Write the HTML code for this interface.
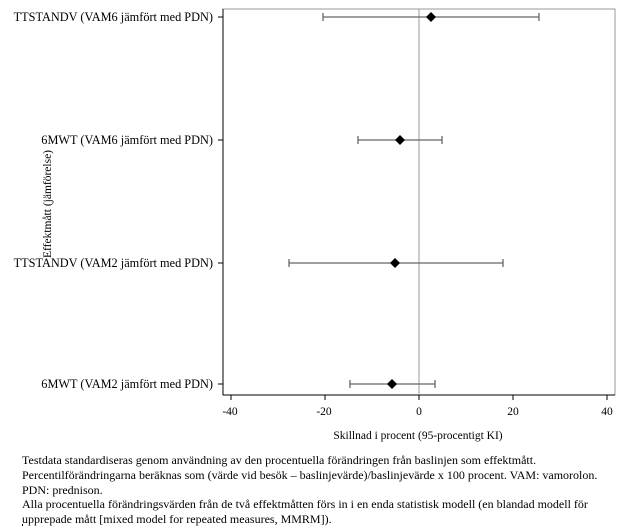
<!DOCTYPE html>
<html><head><meta charset="utf-8"><style>
body{margin:0;background:#fff;width:643px;height:526px;overflow:hidden}
svg{display:block}
text{font-family:"Liberation Serif",serif;fill:#000}
</style></head><body>
<svg width="643" height="526" viewBox="0 0 643 526">
<rect x="223" y="9" width="392" height="386" fill="none" stroke="#999" stroke-width="1"/>
<line x1="223" y1="9" x2="223" y2="395" stroke="#000"/>
<line x1="223" y1="395" x2="615" y2="395" stroke="#000"/>
<line x1="419" y1="9" x2="419" y2="395" stroke="#999"/>
<g stroke="#000">
<line x1="218" y1="17" x2="223" y2="17"/><line x1="218" y1="140" x2="223" y2="140"/>
<line x1="218" y1="263" x2="223" y2="263"/><line x1="218" y1="384" x2="223" y2="384"/>
<line x1="231" y1="395" x2="231" y2="400"/><line x1="325" y1="395" x2="325" y2="400"/>
<line x1="419" y1="395" x2="419" y2="400"/><line x1="513" y1="395" x2="513" y2="400"/>
<line x1="607" y1="395" x2="607" y2="400"/>
</g>
<g font-size="12.3" text-anchor="end">
<text x="213" y="21">TTSTANDV (VAM6 jämfört med PDN)</text>
<text x="213" y="144">6MWT (VAM6 jämfört med PDN)</text>
<text x="213" y="267">TTSTANDV (VAM2 jämfört med PDN)</text>
<text x="213" y="388">6MWT (VAM2 jämfört med PDN)</text>
</g>
<g font-size="11.5" text-anchor="middle">
<text x="230" y="415">-40</text><text x="324" y="415">-20</text><text x="419" y="415">0</text>
<text x="513" y="415">20</text><text x="607" y="415">40</text>
<text x="418" y="439">Skillnad i procent (95-procentigt KI)</text>
</g>
<text font-size="11.5" text-anchor="middle" transform="translate(51,204) rotate(-90)">Effektmått (jämförelse)</text>
<g stroke="#666" stroke-width="1.3" fill="none">
<path d="M323 17H539M323 13v8M539 13v8"/>
<path d="M358 140H442M358 136v8M442 136v8"/>
<path d="M289 263H503M289 259v8M503 259v8"/>
<path d="M350 384H435M350 380v8M435 380v8"/>
</g>
<g fill="#000">
<path d="M431 12l5 5-5 5-5-5z"/>
<path d="M400 135l5 5-5 5-5-5z"/>
<path d="M395 258l5 5-5 5-5-5z"/>
<path d="M392 379l5 5-5 5-5-5z"/>
</g>
<g font-size="12">
<text x="22" y="464">Testdata standardiseras genom användning av den procentuella förändringen från baslinjen som effektmått.</text>
<text x="22" y="479">Percentilförändringarna beräknas som (värde vid besök – baslinjevärde)/baslinjevärde x 100 procent. VAM: vamorolon.</text>
<text x="22" y="494">PDN: prednison.</text>
<text x="22" y="508">Alla procentuella förändringsvärden från de två effektmåtten förs in i en enda statistisk modell (en blandad modell för</text>
<text x="22" y="523">upprepade mått [mixed model for repeated measures, MMRM]).</text>
</g>
<line x1="22.5" y1="524" x2="22.5" y2="526" stroke="#000"/>
</svg>
</body></html>
